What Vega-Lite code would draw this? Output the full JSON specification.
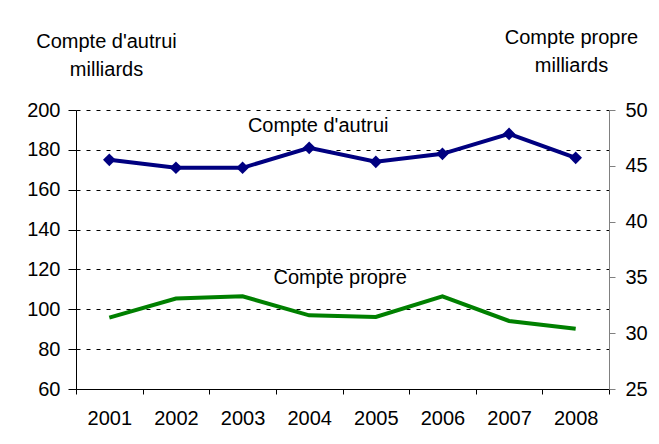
{
  "$schema": "https://vega.github.io/schema/vega-lite/v6.json",
  "width": 533,
  "height": 279,
  "autosize": {"type": "none"},
  "padding": {"left": 76, "top": 110, "right": 50, "bottom": 55},
  "background": "white",
  "config": {
    "font": "Liberation Sans",
    "view": {"stroke": null},
    "axis": {
      "labelFont": "Liberation Sans",
      "titleFont": "Liberation Sans",
      "labelFontSize": 20,
      "titleFontSize": 20,
      "titleFontWeight": "normal",
      "labelColor": "black",
      "titleColor": "black"
    }
  },
  "datasets": {
    "series": [
      {"annee": "2001", "autrui": 175, "propre": 31.4},
      {"annee": "2002", "autrui": 171, "propre": 33.1},
      {"annee": "2003", "autrui": 171, "propre": 33.3},
      {"annee": "2004", "autrui": 181, "propre": 31.6},
      {"annee": "2005", "autrui": 174, "propre": 31.45},
      {"annee": "2006", "autrui": 178, "propre": 33.3},
      {"annee": "2007", "autrui": 188, "propre": 31.1},
      {"annee": "2008", "autrui": 176, "propre": 30.4}
    ],
    "labels": [
      {"annee": "2004", "valeur": 192, "texte": "Compte d'autrui"},
      {"annee": "2004", "valeur": 115.7, "texte": "Compte propre"}
    ]
  },
  "encoding": {
    "x": {
      "field": "annee",
      "type": "ordinal",
      "scale": {"paddingInner": 0, "paddingOuter": 0},
      "axis": {
        "title": null,
        "labelAngle": 0,
        "tickBand": "extent",
        "tickSize": 5,
        "tickColor": "black",
        "domainColor": "black",
        "labelPadding": 14,
        "grid": false
      }
    }
  },
  "layer": [
    {
      "data": {"name": "series"},
      "encoding": {
        "y": {
          "field": "autrui",
          "type": "quantitative",
          "scale": {"domain": [60, 200], "nice": false, "zero": false},
          "axis": {
            "orient": "left",
            "values": [60, 80, 100, 120, 140, 160, 180, 200],
            "title": ["Compte d'autrui", "milliards"],
            "titleAngle": 0,
            "titleAlign": "center",
            "titleBaseline": "alphabetic",
            "titleLineHeight": 28,
            "titleX": 30,
            "titleY": -63,
            "tickSize": 8,
            "tickColor": "black",
            "domainColor": "black",
            "labelPadding": 8,
            "grid": true,
            "gridColor": "black",
            "gridDash": [4, 6],
            "gridWidth": 1,
            "gridOpacity": 1
          }
        }
      },
      "layer": [
        {"mark": {"type": "line", "color": "#000080", "strokeWidth": 4}},
        {"mark": {"type": "point", "shape": "diamond", "filled": true, "color": "#000080", "opacity": 1, "size": 160}}
      ]
    },
    {
      "data": {"name": "series"},
      "mark": {"type": "line", "color": "#008000", "strokeWidth": 4},
      "encoding": {
        "y": {
          "field": "propre",
          "type": "quantitative",
          "scale": {"domain": [25, 50], "nice": false, "zero": false},
          "axis": {
            "orient": "right",
            "values": [25, 30, 35, 40, 45, 50],
            "title": ["Compte propre", "milliards"],
            "titleAngle": 0,
            "titleAlign": "center",
            "titleBaseline": "alphabetic",
            "titleLineHeight": 28,
            "titleX": -38,
            "titleY": -67,
            "tickSize": 6,
            "tickColor": "#808080",
            "domainColor": "#808080",
            "labelPadding": 10,
            "grid": false
          }
        }
      }
    },
    {
      "data": {"name": "labels"},
      "transform": [{"filter": "datum.texte === \"Compte d'autrui\""}],
      "mark": {"type": "text", "fontSize": 20, "font": "Liberation Sans", "color": "black", "align": "center", "baseline": "middle", "dx": 9},
      "encoding": {
        "y": {
          "field": "valeur",
          "type": "quantitative",
          "scale": {"domain": [60, 200], "nice": false, "zero": false},
          "axis": null
        },
        "text": {"field": "texte"}
      }
    },
    {
      "data": {"name": "labels"},
      "transform": [{"filter": "datum.texte === 'Compte propre'"}],
      "mark": {"type": "text", "fontSize": 20, "font": "Liberation Sans", "color": "black", "align": "center", "baseline": "middle", "dx": 31},
      "encoding": {
        "y": {
          "field": "valeur",
          "type": "quantitative",
          "scale": {"domain": [60, 200], "nice": false, "zero": false},
          "axis": null
        },
        "text": {"field": "texte"}
      }
    }
  ],
  "resolve": {"scale": {"y": "independent"}}
}
